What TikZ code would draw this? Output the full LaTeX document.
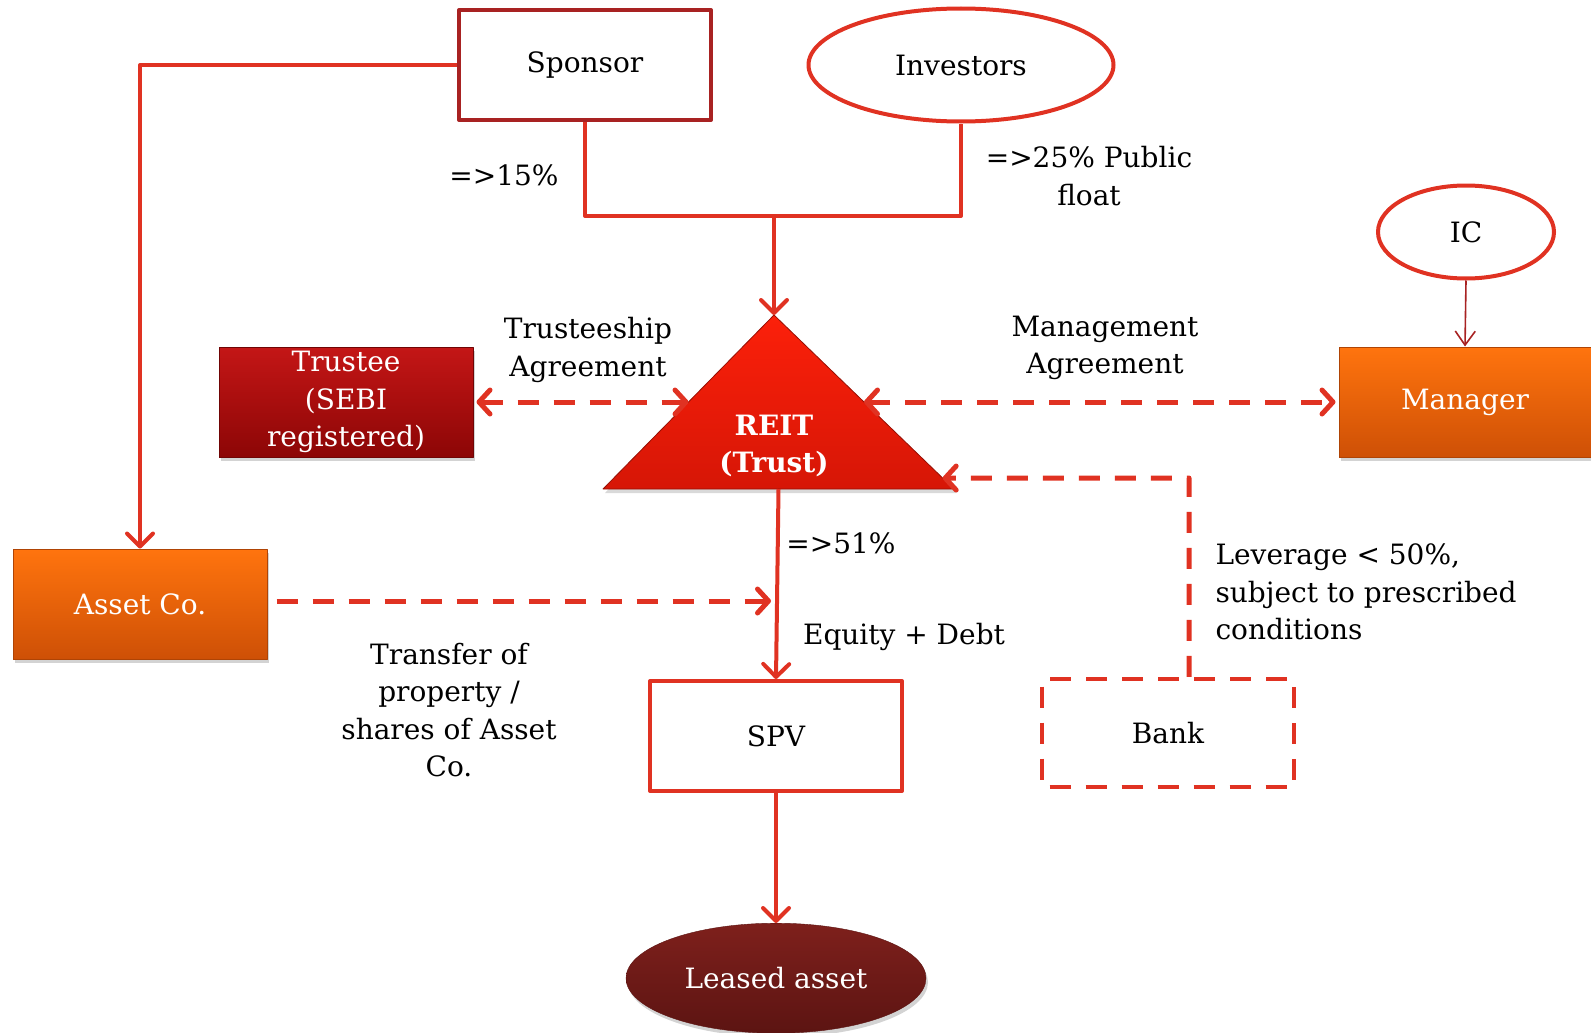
\documentclass[tikz,border=0pt]{standalone}
\usepackage{fontspec}
\setmainfont{DejaVu Serif}
\usetikzlibrary{positioning,shapes,arrows.meta,shadows,calc}
\definecolor{linered}{RGB}{224,50,34}
\definecolor{boxred}{RGB}{168,34,34}
\definecolor{orangetop}{RGB}{255,116,14}
\definecolor{orangebot}{RGB}{206,80,6}
\definecolor{trusttop}{RGB}{196,22,22}
\definecolor{trustbot}{RGB}{140,6,6}
\definecolor{leasetop}{RGB}{126,32,28}
\definecolor{leasebot}{RGB}{92,20,18}
\definecolor{reittop}{RGB}{252,32,10}
\definecolor{reitbot}{RGB}{214,22,6}
\tikzstyle{txt}=[font=\fontsize{28}{37.5}\selectfont,align=center]
\tikzstyle{plainbox}=[rectangle,txt,draw=boxred,line width=4pt,
minimum width=252pt,minimum height=110pt]
\tikzstyle{oval}=[ellipse,txt,draw=linered,line width=4pt]
\tikzstyle{orangebox}=[rectangle,txt,text=white,top color=orangetop,
bottom color=orangebot,draw=orangebot!85!black,line width=1pt,
minimum width=254pt,minimum height=110pt,
drop shadow={opacity=0.35,shadow xshift=2pt,shadow yshift=-4pt}]
\tikzstyle{trustbox}=[orangebox,top color=trusttop,bottom color=trustbot,
draw=trustbot!80!black]
\tikzstyle{dashbox}=[rectangle,txt,draw=linered,line width=4.5pt,
dash pattern=on 21pt off 15pt,dash phase=28.5pt,minimum width=252pt,minimum height=108pt]
\tikzstyle{arr}=[draw=linered,line width=4pt,-{Straight Barb[round,length=13pt,width=26pt]}]
\tikzstyle{dasharr}=[draw=linered,line width=5pt,dash pattern=on 21pt off 15pt,
-{Straight Barb[round,length=11pt,width=24pt]}]

\begin{document}
\begin{tikzpicture}[x=1pt,y=-1pt,line join=round]
            \useasboundingbox (0,0) rectangle (1591,1033);

            % TOP PART

            \node[plainbox] (sponsor) at (585,65) {Sponsor};
            \node[oval,minimum width=305pt,minimum height=113pt] (investors) at (961,65) {Investors};
            \node[oval,minimum width=176pt,minimum height=93pt] (ic) at (1466,232) {IC};
            \node[txt] (l15) at (504,175) {=>15\%};
            \node[txt] (l25) at (1089,176) {=>25\% Public\\float};

            \coordinate (join) at (774,216);
            \draw[draw=linered,line width=4pt] (sponsor.south) |- (join) -| (investors.south);

            % REIT PART

            \coordinate (apex) at (774,315);
            \coordinate (bl) at (603,489);
            \coordinate (br) at (954,489);
            \shade[top color=reittop,bottom color=reitbot,draw=reitbot!70!black,
            line width=0.8pt,drop shadow={opacity=0.3,shadow xshift=2pt,shadow yshift=-4pt}]
            (apex) -- (bl) -- (br) -- cycle;
            \node[txt,text=white,font=\fontsize{28}{37.5}\selectfont\bfseries] (reit) at (774,446) {REIT\\(Trust)};

            \coordinate (reitl) at ($(apex)!0.5!(bl)$);
            \coordinate (reitr) at ($(apex)!0.5!(br)$);
            \coordinate (reitb) at ($(bl)!0.5!(br)$);
            \coordinate (reitlow) at ($(apex)!0.937!(br)$);

            \draw[arr] (join) -- (apex);

            \node[trustbox] (trustee) at (346,402) {Trustee\\(SEBI\\registered)};
            \node[orangebox,minimum width=252pt] (manager) at (1465,402) {Manager};
            \node[txt] (tagr) at (588,350) {Trusteeship\\Agreement};
            \node[txt] (magr) at (1105,348) {Management\\Agreement};

            \draw[dasharr,{Straight Barb[round,length=11pt,width=24pt]}-{Straight Barb[round,length=11pt,width=24pt]}]
            ([xshift=3pt]trustee.east) -- (reitl);
            \draw[dasharr,{Straight Barb[round,length=11pt,width=24pt]}-{Straight Barb[round,length=11pt,width=24pt]}]
            (reitr) -- ([xshift=-3pt]manager.west);
            \draw[draw=boxred,line width=1.6pt,-{Straight Barb[length=14pt,width=20pt]}] (ic.south) -- (manager.north);

            % LOWER PART

            \node[orangebox] (assetco) at (140,604) {Asset Co.};
            \node[plainbox,draw=linered] (spv) at (776,736) {SPV};
            \node[ellipse,txt,text=white,top color=leasetop,bottom color=leasebot,
            draw=leasebot,minimum width=300pt,minimum height=110pt,below=130pt of spv,
            drop shadow={opacity=0.35,shadow xshift=2pt,shadow yshift=-4pt}] (leased) {Leased asset};
            \node[dashbox] (bank) at (1168,733) {Bank};

            \node[txt] (l51) at (841,543) {=>51\%};
            \node[txt] (ldebt) at (904,637) {Equity + Debt};
            \node[txt] (ltransfer) at (449,710) {Transfer of\\property /\\shares of Asset\\Co.};
            \node[txt,align=left,anchor=west] (lleverage) at (1212,592) {Leverage < 50\%,\\subject to prescribed\\conditions};

            \draw[arr] (sponsor.west) -| (assetco.north);
            \draw[arr] (reitb) -- (spv.north);
            \draw[arr] (spv.south) -- (leased.north);

            \coordinate (xfer) at (771,601);
            \draw[dasharr] ([xshift=9pt]assetco.east |- xfer) -- (xfer);
            \coordinate (bankup) at (1189,478);
            \draw[dasharr] (bank.north -| bankup) -- (bankup) -- (reitlow);

        \end{tikzpicture}
\end{document}
